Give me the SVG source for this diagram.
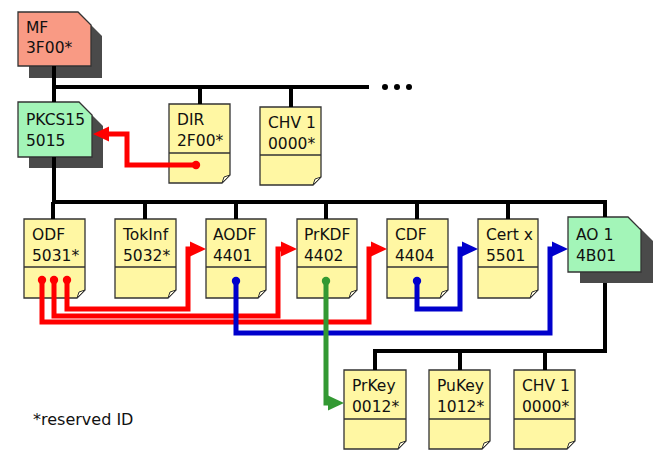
<svg xmlns="http://www.w3.org/2000/svg" width="665" height="462" viewBox="0 0 665 462">
<style>
  text { font-family: "DejaVu Sans", Verdana, sans-serif; font-size: 15.5px; fill: #111; }
  .note { font-size: 16px; }
  .doc { fill: #fff7a3; stroke: #333; stroke-width: 1.3; }
  .fold { fill: #fffbe0; stroke: #333; stroke-width: 1; }
  .div { stroke: #333; stroke-width: 1.3; }
  .shadow { fill: #4a4a4a; }
  .df-mf { fill: #f99a84; stroke: #333; stroke-width: 1.3; }
  .df-g { fill: #a3f5b8; stroke: #333; stroke-width: 1.3; }
  .tree { fill: none; stroke: #000; stroke-width: 4; }
  .red { fill: none; stroke: #ff0000; stroke-width: 5; stroke-linejoin: miter; marker-end: url(#arrR); }
  .blue { fill: none; stroke: #0000cc; stroke-width: 5; stroke-linejoin: miter; marker-end: url(#arrB); }
  .green { fill: none; stroke: #339933; stroke-width: 5; stroke-linejoin: miter; marker-end: url(#arrG); }
  .dr { fill: #ff0000; } .db { fill: #0000cc; } .dg { fill: #339933; }
</style>
<defs>
  <marker id="arrR" markerUnits="userSpaceOnUse" orient="auto" refX="0" refY="0" markerWidth="20" markerHeight="20" overflow="visible"><path d="M-1,-7.5 L15,0 L-1,7.5 z" fill="#ff0000"/></marker>
  <marker id="arrB" markerUnits="userSpaceOnUse" orient="auto" refX="0" refY="0" markerWidth="20" markerHeight="20" overflow="visible"><path d="M-1,-7.5 L15,0 L-1,7.5 z" fill="#0000cc"/></marker>
  <marker id="arrG" markerUnits="userSpaceOnUse" orient="auto" refX="0" refY="0" markerWidth="20" markerHeight="20" overflow="visible"><path d="M-1,-7.5 L15,0 L-1,7.5 z" fill="#339933"/></marker>
</defs>

<g id="MF">
  <path class="shadow" d="M29,23 H89 L102,36 V78 H29 z"/>
  <path class="df-mf" d="M18,12 H78 L91,25 V66 H18 z"/>
  <text x="26" y="33">MF</text><text x="26" y="53">3F00*</text>
</g>
<g id="PKCS15">
  <path class="shadow" d="M29,113 H90 L103,126 V168 H29 z"/>
  <path class="df-g" d="M18,102 H79 L92,115 V157 H18 z"/>
  <text x="26" y="125">PKCS15</text><text x="26" y="146">5015</text>
</g>
<g id="DIR">
  <path class="doc" d="M169,104 H230 V175 L222,183 H169 z"/><path class="div" d="M169,153 H230"/>
  <path class="fold" d="M222,183 L224,177 L230,175 z"/>
  <text x="177" y="125">DIR</text><text x="177" y="146">2F00*</text>
</g>
<g id="CHV1a">
  <path class="doc" d="M260,107 H321 V177 L313,185 H260 z"/><path class="div" d="M260,155 H321"/>
  <path class="fold" d="M313,185 L315,179 L321,177 z"/>
  <text x="268" y="128">CHV 1</text><text x="268" y="149">0000*</text>
</g>
<g id="ODF">
  <path class="doc" d="M24,219 H85 V290 L77,298 H24 z"/><path class="div" d="M24,267 H85"/>
  <path class="fold" d="M77,298 L79,292 L85,290 z"/>
  <text x="32" y="240">ODF</text><text x="32" y="261">5031*</text>
</g>
<g id="TokInf">
  <path class="doc" d="M115,219 H176 V290 L168,298 H115 z"/><path class="div" d="M115,267 H176"/>
  <path class="fold" d="M168,298 L170,292 L176,290 z"/>
  <text x="123" y="240">TokInf</text><text x="123" y="261">5032*</text>
</g>
<g id="AODF">
  <path class="doc" d="M206,219 H266 V290 L258,298 H206 z"/><path class="div" d="M206,267 H266"/>
  <path class="fold" d="M258,298 L260,292 L266,290 z"/>
  <text x="213" y="240">AODF</text><text x="213" y="261">4401</text>
</g>
<g id="PrKDF">
  <path class="doc" d="M297,219 H357 V290 L349,298 H297 z"/><path class="div" d="M297,267 H357"/>
  <path class="fold" d="M349,298 L351,292 L357,290 z"/>
  <text x="304" y="240">PrKDF</text><text x="304" y="261">4402</text>
</g>
<g id="CDF">
  <path class="doc" d="M387,219 H448 V290 L440,298 H387 z"/><path class="div" d="M387,267 H448"/>
  <path class="fold" d="M440,298 L442,292 L448,290 z"/>
  <text x="395" y="240">CDF</text><text x="395" y="261">4404</text>
</g>
<g id="Certx">
  <path class="doc" d="M478,219 H538 V290 L530,298 H478 z"/><path class="div" d="M478,267 H538"/>
  <path class="fold" d="M530,298 L532,292 L538,290 z"/>
  <text x="486" y="240">Cert x</text><text x="486" y="261">5501</text>
</g>
<g id="AO1">
  <path class="shadow" d="M580,228 H640 L653,241 V283 H580 z"/>
  <path class="df-g" d="M568,217 H628 L641,230 V272 H568 z"/>
  <text x="576" y="240">AO 1</text><text x="576" y="261">4B01</text>
</g>
<g id="PrKey">
  <path class="doc" d="M344,370 H406 V441 L398,449 H344 z"/><path class="div" d="M344,419 H406"/>
  <path class="fold" d="M398,449 L400,443 L406,441 z"/>
  <text x="352" y="391">PrKey</text><text x="352" y="412">0012*</text>
</g>
<g id="PuKey">
  <path class="doc" d="M429,370 H490 V441 L482,449 H429 z"/><path class="div" d="M429,419 H490"/>
  <path class="fold" d="M482,449 L484,443 L490,441 z"/>
  <text x="437" y="391">PuKey</text><text x="437" y="412">1012*</text>
</g>
<g id="CHV1b">
  <path class="doc" d="M514,370 H575 V441 L567,449 H514 z"/><path class="div" d="M514,419 H575"/>
  <path class="fold" d="M567,449 L569,443 L575,441 z"/>
  <text x="522" y="391">CHV 1</text><text x="522" y="412">0000*</text>
</g>

<g id="connectors">
  <path class="tree" d="M54,66 V102 M54,157 V202 M54,87 H369 M200,87 V104 M291,87 V107"/>
  <circle cx="385" cy="87" r="3" fill="#000"/>
  <circle cx="397" cy="87" r="3" fill="#000"/>
  <circle cx="409" cy="87" r="3" fill="#000"/>
  <path class="tree" d="M54,202 H605 V217 M53,202 V219 M145,202 V219 M236,202 V219 M326,202 V219 M417,202 V219 M508,202 V219"/>
  <path class="tree" d="M605,283 V351 H375 V370 M460,351 V370 M545,351 V370"/>
  <path class="red" d="M196,165 H127 V134 H108"/>
  <path class="red" d="M67,280 V309 H188 V249 H191"/>
  <path class="red" d="M54,280 V316 H278 V249 H282"/>
  <path class="red" d="M42,280 V322 H369 V249 H372"/>
  <path class="blue" d="M236,281 V333 H550 V249 H553"/>
  <path class="blue" d="M417,281 V309 H460 V249 H463"/>
  <path class="green" d="M326,281 V403 H329"/>
  <circle class="dr" cx="196" cy="165" r="4.2"/>
  <circle class="dr" cx="42" cy="280" r="4.2"/>
  <circle class="dr" cx="54" cy="280" r="4.2"/>
  <circle class="dr" cx="67" cy="280" r="4.2"/>
  <circle class="db" cx="236" cy="281" r="4.2"/>
  <circle class="db" cx="417" cy="281" r="4.2"/>
  <circle class="dg" cx="326" cy="281" r="4.2"/>
</g>
<text class="note" x="33" y="425">*reserved ID</text>
</svg>
